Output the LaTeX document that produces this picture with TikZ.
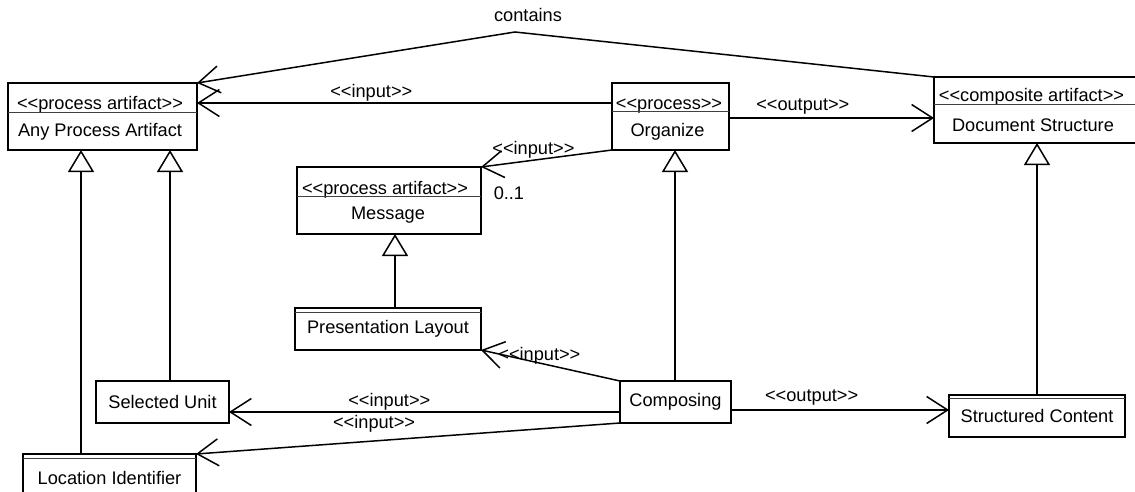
\documentclass[tikz,border=0pt]{standalone}
\usepackage{fontspec}
\usetikzlibrary{arrows.meta}
\newfontfamily\umlsans{Liberation Sans}
\newcommand\umlfont{\umlsans\fontsize{18.2}{21}\selectfont}

\begin{document}
\begin{tikzpicture}[x=1pt, y=-1pt,
        cls/.style={draw, line width=1.5pt, inner sep=0pt, outer sep=0pt, font=\umlfont},
        txt/.style={inner sep=1pt, font=\umlfont},
        sep/.style={line width=0.6pt, black!75},
        assoc/.style={line width=1.5pt, -{Straight Barb[length=21pt, width=27pt]}},
        gen/.style={line width=1.5pt, -{Triangle[length=22pt, width=26pt, fill=white]}}]
    \useasboundingbox (0,0) rectangle (1135,492);

    % classes with a stereotype
    \node[cls, minimum width=189pt, minimum height=67pt] (apa) at (102.5,116.5) {};
    \node[txt, anchor=base] (apa-st) at (100,110) {<<process artifact>>};
    \node[txt] (apa-nm) at (100,132) {Any Process Artifact};
    \draw[sep] ([yshift=-29pt]apa.north west) -- ([yshift=-29pt]apa.north east);

    \node[cls, minimum width=117pt, minimum height=67pt] (organize) at (670.5,116.5) {};
    \node[txt, anchor=base] (organize-st) at (669,110) {<<process>>};
    \node[txt] (organize-nm) at (667.5,132) {Organize};
    \draw[sep] ([yshift=-28pt]organize.north west) -- ([yshift=-28pt]organize.north east);

    \node[cls, minimum width=206pt, minimum height=66pt] (docs) at (1037,110) {};
    \node[txt, anchor=base] (docs-st) at (1031.5,102) {<<composite artifact>>};
    \node[txt] (docs-nm) at (1033,125) {Document Structure};
    \draw[sep] ([yshift=-27pt]docs.north west) -- ([yshift=-27pt]docs.north east);

    \node[cls, minimum width=184pt, minimum height=67pt] (message) at (389,200.5) {};
    \node[txt, anchor=base] (message-st) at (385,194) {<<process artifact>>};
    \node[txt] (message-nm) at (388,215) {Message};
    \draw[sep] ([yshift=-29pt]message.north west) -- ([yshift=-29pt]message.north east);

    % plain classes
    \node[cls, minimum width=186pt, minimum height=42pt] (layout) at (388,329) {Presentation Layout};
    \draw[sep] ([yshift=-4pt]layout.north west) -- ([yshift=-4pt]layout.north east);
    \node[cls, minimum width=133pt, minimum height=42pt] (selected) at (162.5,402) {Selected Unit};
    \node[cls, minimum width=111pt, minimum height=42pt] (composing) at (675.5,402) {Composing};
    \node[cls, minimum width=173pt, minimum height=48pt] (location) at (109.5,478) {Location Identifier};
    \draw[sep] ([yshift=-4pt]location.north west) -- ([yshift=-4pt]location.north east);
    \node[cls, minimum width=176pt, minimum height=42pt] (structured) at (1037,416) {Structured Content};
    \draw[sep] ([yshift=-3.5pt]structured.north west) -- ([yshift=-3.5pt]structured.north east);

    % associations
    \coordinate (peak) at (515,32);
    \draw[assoc] (docs.north west) -- (peak) node[txt, above=9pt, xshift=13pt] (contains) {contains} -- (apa.north east);
    \draw[assoc] ([yshift=13.5pt]organize.west) -- node[txt, above, pos=.58] (in-apa) {<<input>>} ([yshift=13.5pt]apa.east);
    \draw[assoc] ([yshift=-1.5pt]organize.east) -- node[txt, above=2pt, pos=.36] (out-docs) {<<output>>} (docs.west |- 0,118);
    \draw[assoc] (organize.south west) -- node[txt, above, pos=.6] (in-msg) {<<input>>} (message.north east)
        node[txt, anchor=north west, xshift=11pt, yshift=-18pt] (mult) {0..1};
    \draw[assoc] (composing.north west) -- node[txt, pos=.58, yshift=7pt] (in-layout) {<<input>>} (layout.south east);
    \draw[assoc] ([yshift=-10pt]composing.west) -- node[txt, above, pos=.59] (in-sel) {<<input>>} ([yshift=-10pt]selected.east);
    \draw[assoc] (composing.south west) -- node[txt, above=7pt, pos=.58] (in-loc) {<<input>>} (location.north east);
    \draw[assoc] ([yshift=-8pt]composing.east) -- node[txt, above=3pt, pos=.37] (out-struct) {<<output>>} (structured.west |- 0,410);

    % generalizations
    \draw[gen] (layout.north -| 395,0) -- (message.south -| 395,0);
    \draw[gen] (selected.north -| 170,0) -- (apa.south -| 170,0);
    \draw[gen] (location.north -| 81,0) -- (apa.south -| 81,0);
    \draw[gen] (composing.north -| 675,0) -- (organize.south -| 675,0);
    \draw[gen] (structured.north) -- (docs.south);
\end{tikzpicture}
\end{document}
